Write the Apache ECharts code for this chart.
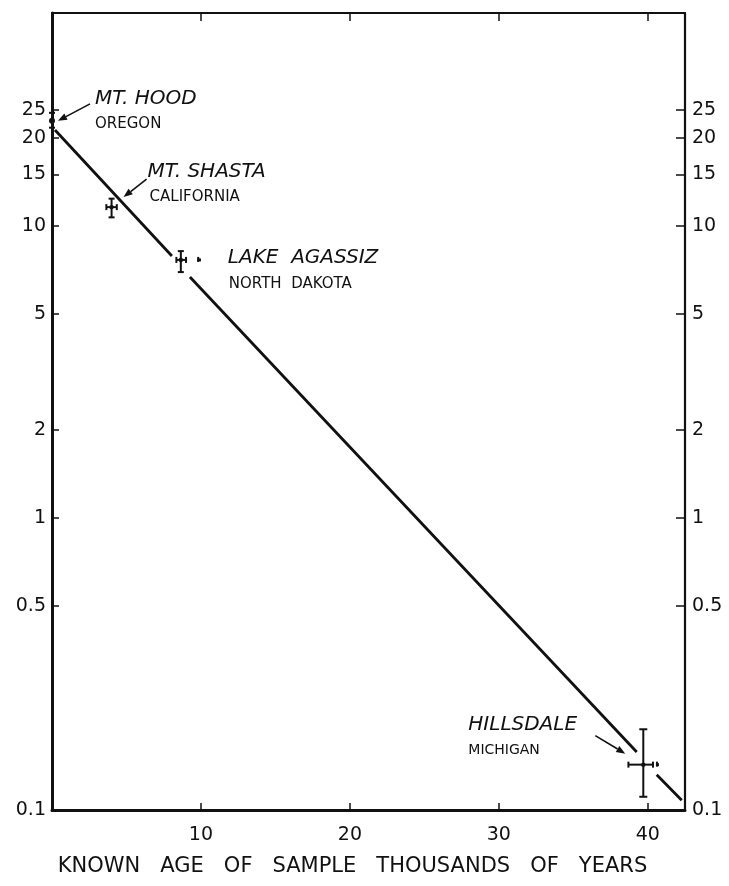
<!DOCTYPE html>
<html>
<head>
<meta charset="utf-8">
<script src="https://cdn.jsdelivr.net/npm/echarts@6/dist/echarts.min.js"></script>
<style>
  html, body { margin: 0; padding: 0; background: #ffffff; }
  #chart { width: 729px; height: 886px; }
</style>
</head>
<body>
<div id="chart"></div>
<script>
// Radiocarbon activity of dated samples against their known age
const sampleNames = ['MT. HOOD', 'MT. SHASTA', 'LAKE  AGASSIZ', 'HILLSDALE'];
const sampleRegions = ['OREGON', 'CALIFORNIA', 'NORTH  DAKOTA', 'MICHIGAN'];
const sampleAge = [0.0, 4.0, 8.65, 39.7];
const sampleAgeLow = [null, 3.65, 8.35, 38.7];
const sampleAgeHigh = [null, 4.35, 9.0, 40.35];
const sampleActivity = [22.9, 11.6, 7.65, 0.143];
const sampleActivityLow = [21.7, 10.7, 6.95, 0.111];
const sampleActivityHigh = [24.4, 12.4, 8.2, 0.189];
// short detached pieces of the age bars
const extraAgeLow = [null, null, 9.75, 40.55];
const extraAgeHigh = [null, null, 10.0, 40.75];

// decay line, broken where it passes the samples (null = gap)
const decayAge = [0.2, 8.05, null, 9.26, 39.26, null, 40.6, 42.28];
const decayActivity = [21.3, 7.89, null, 6.69, 0.158, null, 0.132, 0.108];

const ageTicks = [10, 20, 30, 40];
const activityTicks = [0.1, 0.5, 1, 2, 5, 10, 15, 20, 25];

const INK = '#111111';
const FONT = '"DejaVu Sans", "Liberation Sans", sans-serif';

const chart = echarts.init(document.getElementById('chart'), null, { renderer: 'canvas' });

const samplePoints = sampleAge.map((a, i) => [a, sampleActivity[i]]);
const decayPoints = decayAge.map((a, i) =>
  a === null ? ['-', '-'] : [a, decayActivity[i]]);

// label placement around each sample, in pixels from the sample
const noteLayout = [
  { title: [43, -22], sub: [43, 3], subSize: 15, arrow: [[38, -17], [6, 0]] },
  { title: [36, -35], sub: [38, -10], subSize: 15, arrow: [[35, -28], [12, -10]] },
  { title: [47, -2], sub: [48, 24], subSize: 15, arrow: null },
  { title: [-175, -40], sub: [-175, -14], subSize: 14, arrow: [[-48, -29], [-18, -11]] }
];

function renderBars(params, api) {
  const i = params.dataIndex;
  const c = api.coord([sampleAge[i], sampleActivity[i]]);
  const hi = api.coord([sampleAge[i], sampleActivityHigh[i]]);
  const lo = api.coord([sampleAge[i], sampleActivityLow[i]]);
  const st = { stroke: INK, lineWidth: 2 };
  const cap = i === 3 ? 4 : 3;
  const kids = [
    { type: 'line', shape: { x1: c[0], y1: hi[1], x2: c[0], y2: lo[1] }, style: st },
    { type: 'line', shape: { x1: c[0] - cap, y1: hi[1], x2: c[0] + cap, y2: hi[1] }, style: st },
    { type: 'line', shape: { x1: c[0] - cap, y1: lo[1], x2: c[0] + cap, y2: lo[1] }, style: st },
    { type: 'circle', shape: { cx: c[0], cy: c[1], r: i === 0 ? 3 : 2.2 }, style: { fill: INK } }
  ];
  if (sampleAgeLow[i] !== null) {
    const l = api.coord([sampleAgeLow[i], sampleActivity[i]]);
    const r = api.coord([sampleAgeHigh[i], sampleActivity[i]]);
    kids.push(
      { type: 'line', shape: { x1: l[0], y1: c[1], x2: r[0], y2: c[1] }, style: st },
      { type: 'line', shape: { x1: l[0], y1: c[1] - 3, x2: l[0], y2: c[1] + 3 }, style: st },
      { type: 'line', shape: { x1: r[0], y1: c[1] - 3, x2: r[0], y2: c[1] + 3 }, style: st }
    );
  }
  if (extraAgeLow[i] !== null) {
    const l = api.coord([extraAgeLow[i], sampleActivity[i]]);
    const r = api.coord([extraAgeHigh[i], sampleActivity[i]]);
    kids.push(
      { type: 'line', shape: { x1: l[0], y1: c[1], x2: r[0], y2: c[1] }, style: { stroke: INK, lineWidth: 3 } },
      { type: 'line', shape: { x1: l[0] + 1, y1: c[1] - 3, x2: l[0] + 1, y2: c[1] + 2 }, style: st }
    );
  }
  return { type: 'group', children: kids };
}

function renderNotes(params, api) {
  const i = params.dataIndex;
  const c = api.coord([sampleAge[i], sampleActivity[i]]);
  const lay = noteLayout[i];
  const kids = [
    { type: 'text', style: {
        text: sampleNames[i], x: c[0] + lay.title[0], y: c[1] + lay.title[1],
        fontFamily: FONT, fontSize: 20, fontStyle: 'italic', fill: INK,
        align: 'left', verticalAlign: 'middle' } },
    { type: 'text', style: {
        text: sampleRegions[i], x: c[0] + lay.sub[0], y: c[1] + lay.sub[1],
        fontFamily: FONT, fontSize: lay.subSize, fill: INK,
        align: 'left', verticalAlign: 'middle' } }
  ];
  if (lay.arrow) {
    const x1 = c[0] + lay.arrow[0][0], y1 = c[1] + lay.arrow[0][1];
    const x2 = c[0] + lay.arrow[1][0], y2 = c[1] + lay.arrow[1][1];
    const ang = Math.atan2(y2 - y1, x2 - x1);
    const hl = 9, hw = 3.5;
    const bx = x2 - hl * Math.cos(ang), by = y2 - hl * Math.sin(ang);
    const px = -Math.sin(ang) * hw, py = Math.cos(ang) * hw;
    kids.push(
      { type: 'line', shape: { x1: x1, y1: y1, x2: bx, y2: by }, style: { stroke: INK, lineWidth: 1.6 } },
      { type: 'polygon', shape: { points: [[x2, y2], [bx + px, by + py], [bx - px, by - py]] }, style: { fill: INK } }
    );
  }
  return { type: 'group', children: kids };
}

const yAxisBase = {
  type: 'log',
  logBase: 10,
  min: 0.1,
  max: 53.6,
  splitLine: { show: false },
  minorTick: { show: false },
  axisTick: { show: true, inside: true, length: 7, customValues: activityTicks,
    lineStyle: { color: INK, width: 1.5 } },
  axisLabel: { customValues: activityTicks, color: INK, fontFamily: FONT, fontSize: 19,
    formatter: v => String(v) }
};

chart.setOption({
  animation: false,
  backgroundColor: '#ffffff',
  grid: { left: 52, right: 44, top: 13, bottom: 76, containLabel: false },
  xAxis: [
    {
      type: 'value', min: 0, max: 42.5, position: 'bottom',
      name: 'KNOWN   AGE   OF   SAMPLE   THOUSANDS   OF   YEARS',
      nameLocation: 'middle', nameGap: 46,
      nameTextStyle: { color: INK, fontFamily: FONT, fontSize: 21, padding: [0, 32, 0, 0] },
      splitLine: { show: false },
      axisLine: { show: true, onZero: false, lineStyle: { color: INK, width: 3 } },
      axisTick: { show: true, inside: true, length: 7, customValues: ageTicks,
        lineStyle: { color: INK, width: 1.5 } },
      axisLabel: { customValues: ageTicks, margin: 16, color: INK, fontFamily: FONT, fontSize: 19 }
    },
    {
      type: 'value', min: 0, max: 42.5, position: 'top',
      splitLine: { show: false },
      axisLine: { show: true, onZero: false, lineStyle: { color: INK, width: 2 } },
      axisTick: { show: true, inside: true, length: 8, customValues: ageTicks,
        lineStyle: { color: INK, width: 1.5 } },
      axisLabel: { show: false }
    }
  ],
  yAxis: [
    Object.assign({}, yAxisBase, {
      position: 'left',
      axisLine: { show: true, onZero: false, lineStyle: { color: INK, width: 3 } },
      axisLabel: Object.assign({}, yAxisBase.axisLabel, { margin: 6 })
    }),
    Object.assign({}, yAxisBase, {
      position: 'right',
      axisLine: { show: true, onZero: false, lineStyle: { color: INK, width: 2.2 } },
      axisLabel: Object.assign({}, yAxisBase.axisLabel, { margin: 7 }),
      axisTick: Object.assign({}, yAxisBase.axisTick, { length: 9 })
    })
  ],
  series: [
    {
      type: 'line', name: 'decay', xAxisIndex: 0, yAxisIndex: 0,
      data: decayPoints, showSymbol: false, symbol: 'none', connectNulls: false,
      lineStyle: { color: INK, width: 2.8 }, silent: true
    },
    {
      type: 'custom', name: 'samples', xAxisIndex: 0, yAxisIndex: 0,
      data: samplePoints, encode: { x: 0, y: 1 }, clip: false,
      renderItem: renderBars, silent: true
    },
    {
      type: 'custom', name: 'notes', xAxisIndex: 0, yAxisIndex: 0,
      data: samplePoints, encode: { x: 0, y: 1 }, clip: false,
      renderItem: renderNotes, silent: true
    }
  ]
});
</script>
</body>
</html>
